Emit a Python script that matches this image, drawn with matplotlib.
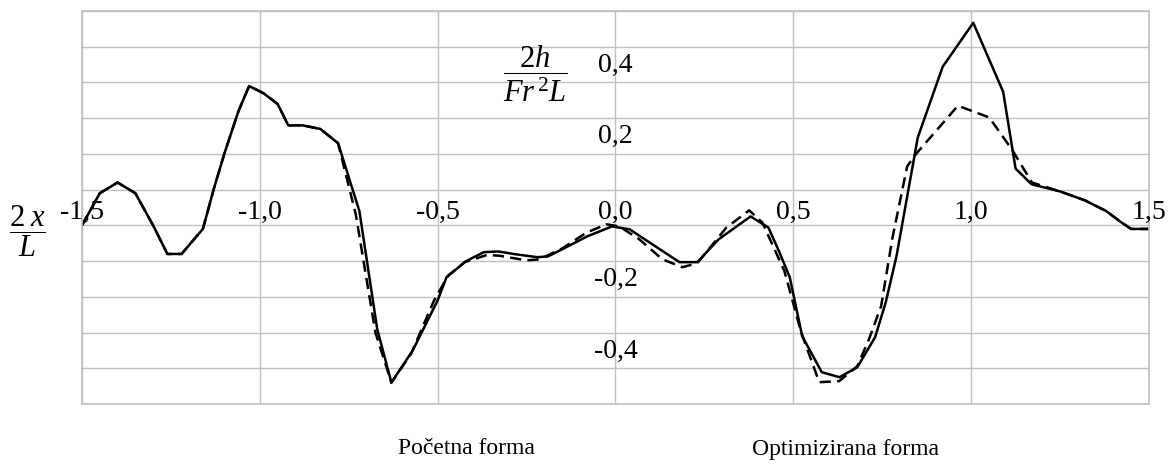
import matplotlib.pyplot as plt

plt.rcParams['font.family'] = ['Liberation Serif', 'DejaVu Serif']
plt.rcParams['mathtext.fontset'] = 'custom'
plt.rcParams['mathtext.rm'] = 'Liberation Serif'
plt.rcParams['mathtext.it'] = 'Liberation Serif:italic'

# Početna forma (solid)
x_initial = [-1.50, -1.45, -1.40, -1.35, -1.30, -1.26, -1.22, -1.16, -1.13, -1.10,
             -1.06, -1.03, -0.99, -0.95, -0.92, -0.88, -0.83, -0.78, -0.72, -0.67,
             -0.63, -0.57, -0.50, -0.475, -0.42, -0.37, -0.33, -0.28, -0.22, -0.19,
             -0.15, -0.08, -0.01, 0.04, 0.07, 0.18, 0.23, 0.29, 0.38, 0.43,
             0.46, 0.49, 0.525, 0.58, 0.63, 0.68, 0.73, 0.76, 0.79, 0.85,
             0.92, 1.006, 1.09, 1.125, 1.17, 1.25, 1.32, 1.38, 1.42, 1.45, 1.50]
y_initial = [0.00, 0.09, 0.12, 0.09, 0.00, -0.08, -0.08, -0.01, 0.10, 0.20,
             0.32, 0.39, 0.37, 0.34, 0.28, 0.28, 0.27, 0.23, 0.04, -0.29,
             -0.44, -0.35, -0.21, -0.145, -0.10, -0.075, -0.073, -0.081, -0.089, -0.087,
             -0.067, -0.031, -0.003, -0.011, -0.031, -0.103, -0.103, -0.039, 0.025, -0.006,
             -0.073, -0.145, -0.31, -0.411, -0.425, -0.397, -0.313, -0.215, -0.087, 0.246,
             0.444, 0.567, 0.374, 0.159, 0.115, 0.095, 0.07, 0.04, 0.01, -0.01, -0.01]

# Optimizirana forma (dashed)
x_optimized = [-1.50, -1.45, -1.40, -1.35, -1.30, -1.26, -1.22, -1.16, -1.13, -1.10,
               -1.06, -1.03, -0.99, -0.95, -0.92, -0.88, -0.83, -0.78, -0.73, -0.675,
               -0.63, -0.575, -0.51, -0.47, -0.424, -0.362, -0.326, -0.25, -0.213, -0.149,
               -0.081, -0.025, 0.011, 0.067, 0.132, 0.188, 0.23, 0.312, 0.376, 0.413,
               0.475, 0.522, 0.573, 0.629, 0.68, 0.713, 0.747, 0.778, 0.82, 0.846,
               0.963, 1.051, 1.115, 1.171, 1.25, 1.32, 1.38, 1.42, 1.45, 1.50]
y_optimized = [0.00, 0.09, 0.12, 0.09, 0.00, -0.08, -0.08, -0.01, 0.10, 0.20,
               0.32, 0.39, 0.37, 0.34, 0.28, 0.28, 0.27, 0.23, 0.03, -0.30,
               -0.44, -0.36, -0.21, -0.14, -0.103, -0.083, -0.085, -0.098, -0.095, -0.064,
               -0.02, 0.003, -0.003, -0.039, -0.095, -0.117, -0.106, -0.006, 0.042, 0.008,
               -0.128, -0.299, -0.439, -0.436, -0.394, -0.318, -0.226, -0.039, 0.165, 0.201,
               0.335, 0.302, 0.212, 0.12, 0.095, 0.07, 0.04, 0.01, -0.01, -0.01]

x_ticks = [-1.5, -1.0, -0.5, 0.0, 0.5, 1.0, 1.5]
y_ticks = [0.4, 0.2, 0.0, -0.2, -0.4]
legend_labels = ['Početna forma', 'Optimizirana forma']

fig = plt.figure(figsize=(11.73, 4.67), dpi=100)
ax = fig.add_axes([0.0699, 0.1349, 0.9096, 0.8415])

ax.plot(x_initial, y_initial, color='black', linewidth=1.8, linestyle='-')
ax.plot(x_optimized, y_optimized, color='black', linewidth=1.8, linestyle=(0, (4.5, 2.5)))

ax.set_xlim(-1.5, 1.5)
ax.set_ylim(-0.5, 0.6)
ax.set_xticks([-1.5 + 0.5 * i for i in range(7)])
ax.set_yticks([-0.5 + 0.1 * i for i in range(12)])
ax.grid(True, color='#c0c0c0', linewidth=1.0)
ax.set_axisbelow(True)
ax.tick_params(length=0, labelbottom=False, labelleft=False)
for s in ax.spines.values():
    s.set_color('#c0c0c0')
    s.set_linewidth(1.2)

# tick labels drawn inside the plot, decimal comma
for xv in x_ticks:
    ax.text(xv, 0.017, f'{xv:.1f}'.replace('.', ','), ha='center', va='baseline',
            fontsize=20, clip_on=False)
for yv in y_ticks:
    if yv == 0.0:
        continue
    ax.text(0.0, yv + 0.03, f'{yv:.1f}'.replace('.', ','), ha='center', va='baseline',
            fontsize=20)

# axis titles
ax.text(-0.225, 0.425, r'$\dfrac{2h}{Fr^{\,2}L}$', ha='center', va='center', fontsize=22)
fig.text(27 / 1173, 1 - 231 / 467, r'$\dfrac{2\;x}{\;L\;}$', ha='center', va='center', fontsize=22)

fig.text(466 / 1173, 1 - 449 / 467, legend_labels[0], ha='center', va='center', fontsize=17)
fig.text(846 / 1173, 1 - 449 / 467, legend_labels[1], ha='center', va='center', fontsize=17)

plt.savefig('out.png', dpi=100)
